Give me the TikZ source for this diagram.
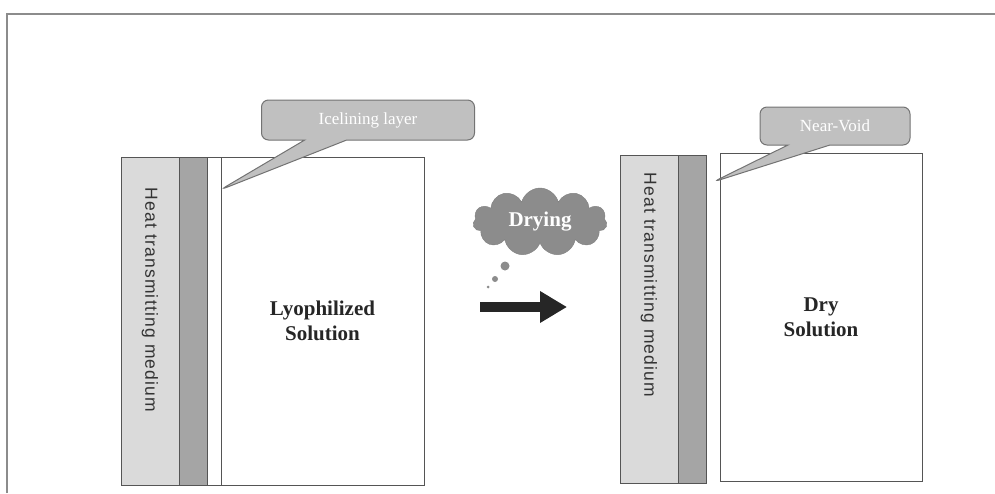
\documentclass[tikz,border=0pt]{standalone}
\usepackage{fontspec}
\setmainfont{Liberation Serif}
\newfontfamily\medfont[LetterSpace=7]{Liberation Sans}
\usetikzlibrary{positioning,shapes.callouts,shapes.symbols,arrows.meta}

\definecolor{medgray}{RGB}{218,218,218}
\definecolor{wallgray}{RGB}{165,165,165}
\definecolor{edgegray}{RGB}{85,85,85}
\definecolor{tipgray}{RGB}{192,192,192}
\definecolor{cloudgray}{RGB}{140,140,140}

\tikzstyle{medium} = [rectangle, minimum width=58pt, minimum height=328pt,
fill=medgray, draw=edgegray, outer sep=0pt, inner sep=0pt]
\tikzstyle{wall} = [rectangle, minimum width=28pt, minimum height=328pt,
fill=wallgray, draw=edgegray, outer sep=0pt, inner sep=0pt]
\tikzstyle{icegap} = [rectangle, minimum width=14pt, minimum height=328pt,
draw=edgegray, outer sep=0pt, inner sep=0pt]
\tikzstyle{solution} = [rectangle, minimum width=203pt, minimum height=328pt,
draw=edgegray, align=center, outer sep=0pt, text=black!85,
font=\fontsize{21}{25}\selectfont\bfseries]
\tikzstyle{medtext} = [rotate=-90, text=black!80,
font=\medfont\fontsize{17.5}{19}\selectfont]
\tikzstyle{tip} = [rectangle callout, rounded corners=7pt, fill=tipgray,
draw=black!55, line width=1pt, text=white, callout pointer width=42pt,
font=\fontsize{17}{19}\selectfont]
\tikzstyle{bubble} = [circle, fill=cloudgray, inner sep=0pt]

\begin{document}
\begin{tikzpicture}[x=1pt, y=-1pt]
  \useasboundingbox (0,0) rectangle (995,493);
  \draw [black!45, line width=1.3pt] (7,493) -- (7,14) -- (995,14);
  % before drying
  \node (lmed) [medium, anchor=north west] at (121,157) {};
  \node (lwall) [wall, right=0pt of lmed] {};
  \node (lice) [icegap, right=0pt of lwall] {};
  \node (lsol) [solution, right=0pt of lice] {Lyophilized\\Solution};
  \node (ltext) [medtext] at ([yshift=21pt]lmed.center) {Heat transmitting medium};
  \node (icetip) [tip, minimum width=213pt, minimum height=40pt,
    callout absolute pointer={(220,190)}] at (368,120) {Icelining layer};
  % drying
  \node (dry) [cloud, cloud puffs=11, aspect=2, minimum width=134pt,
    minimum height=68pt, inner sep=0pt, fill=cloudgray, draw=black!50,
    text=white, font=\fontsize{21}{24}\selectfont\bfseries] at (540,222) {Drying};
  \node (bub1) [bubble, minimum size=9pt] at (505,266) {};
  \node (bub2) [bubble, minimum size=6pt] at (495,279) {};
  \node (bub3) [bubble, minimum size=3pt] at (488,287) {};
  \coordinate (arrs) at (480,307);
  \coordinate (arre) at (567,307);
  \draw [line width=10pt, black!85, -{Triangle[length=27pt,width=30pt]}] (arrs) -- (arre);
  % after drying
  \node (rmed) [medium, anchor=north west] at (620,155) {};
  \node (rwall) [wall, right=0pt of rmed] {};
  \node (rsol) [solution, anchor=north west, minimum width=202pt] at (720,153) {Dry\\Solution};
  \node (rtext) [medtext] at ([yshift=34pt]rmed.center) {Heat transmitting medium};
  \node (voidtip) [tip, minimum width=150pt, minimum height=38pt,
    callout absolute pointer={(713,182)}] at (835,126) {Near-Void};
\end{tikzpicture}
\end{document}
